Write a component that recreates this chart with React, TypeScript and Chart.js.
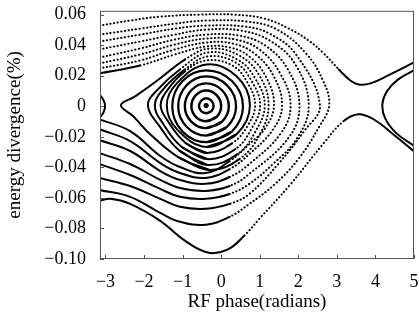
import React, { useEffect, useRef } from 'react';
import { Chart, registerables } from 'chart.js';

Chart.register(...registerables);

type P = [number, number];

const xTicks = [-3, -2, -1, 0, 1, 2, 3, 4, 5];
const yTicks = [-0.1, -0.08, -0.06, -0.04, -0.02, 0, 0.02, 0.04, 0.06];

const centre: P[] = [[-0.39, 0.0005]];

const ring1: P[] = [[-0.386,-0.0046],[-0.253,-0.0032],[-0.196,0],[-0.253,0.0036],[-0.386,0.0052],[-0.518,0.0036],[-0.574,0],[-0.518,-0.0032],[-0.386,-0.0046],[-0.253,-0.0032]];
const ring2: P[] = [[-0.386,-0.0098],[-0.116,-0.0069],[0.0,0],[-0.116,0.0073],[-0.386,0.0104],[-0.656,0.0073],[-0.772,0],[-0.656,-0.0069],[-0.386,-0.0098],[-0.116,-0.0069]];
const ring3: P[] = [[-0.386,-0.0143],[0.023,-0.01],[0.198,0],[0.023,0.0105],[-0.386,0.015],[-0.775,0.0105],[-0.942,0],[-0.775,-0.01],[-0.386,-0.0143],[0.023,-0.01]];
const ring4: P[] = [[-0.386,-0.0192],[0.154,-0.0134],[0.386,0],[0.154,0.0137],[-0.386,0.0196],[-0.896,0.0137],[-1.114,0],[-0.896,-0.0134],[-0.386,-0.0192],[0.154,-0.0134]];
const ring5: P[] = [[-0.386,-0.0235],[0.28,-0.0165],[0.566,0],[0.28,0.0165],[-0.386,0.0235],[-1.003,0.0165],[-1.268,0],[-1.003,-0.0165],[-0.386,-0.0235],[0.28,-0.0165]];
const ring6: P[] = [[-0.376,-0.0267],[0.4,-0.0183],[0.746,0.0007],[0.4,0.0196],[-0.376,0.0274],[-1.15,0.015],[-1.41,0.0007],[-1.15,-0.015],[-0.376,-0.0267],[0.4,-0.0183]];
const ring7: P[] = [[-0.376,-0.0306],[-0.92,-0.0241],[-1.38,-0.0098],[-1.57,0.0007],[-1.38,0.0111],[-0.94,0.0228],[-0.376,0.03],[0.29,0.0267],[0.68,0.0156],[0.88,0.0007],[0.68,-0.013],[0.29,-0.0241],[-0.376,-0.0306],[-0.92,-0.0241]];
const ring8: P[] = [[-0.35,-0.0346],[-1.02,-0.0267],[-1.48,-0.0124],[-1.72,0.0007],[-1.46,0.0124],[-0.94,0.0241],[-0.35,0.0326],[0.37,0.0287],[0.78,0.0169],[1.01,0.0007],[0.78,-0.015],[0.37,-0.028],[-0.35,-0.0346],[-1.02,-0.0267]];
const ring9: P[] = [[-0.35,-0.0385],[-1.07,-0.0293],[-1.58,-0.0137],[-1.9,0.0007],[-1.64,0.0111],[-1.07,0.0241],[-0.35,0.0352],[0.42,0.0306],[0.88,0.0183],[1.13,0.0007],[0.88,-0.0169],[0.42,-0.0313],[-0.35,-0.0385],[-1.07,-0.0293]];
const ring10: P[] = [[-0.3,-0.0417],[-1.07,-0.0339],[-1.84,-0.0183],[-2.28,-0.0065],[-2.6,0.0007],[-2.23,0.0065],[-1.58,0.0183],[-0.94,0.0306],[-0.3,0.0378],[0.47,0.0332],[0.99,0.0202],[1.23,0.0007],[0.99,-0.0189],[0.47,-0.0346],[-0.3,-0.0417],[-1.07,-0.0339]];

const orbitC1: P[] = [[-3.16,0.0215],[-2.1,0.0267],[-1.2,0.0339],[-0.4,0.0391],[0.22,0.0385],[0.73,0.0326],[1.17,0.0189],[1.37,0.0007],[1.14,-0.0143],[0.73,-0.0248],[0.22,-0.0359],[-0.4,-0.0437],[-1.07,-0.0398],[-1.58,-0.0326],[-2.36,-0.0163],[-3.16,-0.0085]];
const orbitC2: P[] = [[-3.16,0.0248],[-2.1,0.03],[-1.2,0.0372],[-0.4,0.0417],[0.29,0.0411],[0.86,0.0346],[1.35,0.0202],[1.58,0.0007],[1.35,-0.015],[0.73,-0.0313],[0.22,-0.0411],[-0.4,-0.0469],[-1.07,-0.0437],[-1.58,-0.0372],[-2.36,-0.0228],[-3.16,-0.015]];
const orbitC3: P[] = [[-3.16,0.028],[-2.1,0.0339],[-1.2,0.0404],[-0.4,0.0443],[0.37,0.0437],[0.99,0.0372],[1.53,0.0215],[1.8,0.0007],[1.55,-0.0176],[0.73,-0.0378],[0.22,-0.0463],[-0.4,-0.0508],[-1.07,-0.0482],[-1.58,-0.0424],[-2.36,-0.0293],[-3.16,-0.0222]];
const orbitC4: P[] = [[-3.16,0.0319],[-2.1,0.0378],[-1.2,0.0437],[-0.4,0.0469],[0.45,0.0463],[1.14,0.0398],[1.73,0.0241],[2.03,0.0007],[1.76,-0.0202],[0.73,-0.0443],[0.22,-0.0522],[-0.4,-0.0554],[-1.07,-0.0535],[-1.58,-0.0482],[-2.36,-0.0378],[-3.16,-0.0306]];
const orbitC5: P[] = [[-3.16,0.0372],[-2.1,0.0424],[-1.2,0.0469],[-0.4,0.0502],[0.52,0.0495],[1.3,0.0424],[1.94,0.0267],[2.27,0.0007],[1.97,-0.0209],[1.37,-0.0372],[0.73,-0.0508],[0.22,-0.0574],[-0.4,-0.0606],[-1.07,-0.0593],[-1.58,-0.0541],[-2.36,-0.045],[-3.16,-0.0378]];
const orbitC6: P[] = [[-3.16,0.0424],[-2.1,0.0469],[-1.2,0.0508],[-0.4,0.0528],[0.6,0.0522],[1.25,0.0476],[1.94,0.0339],[2.56,0.0007],[2.15,-0.0163],[1.5,-0.0372],[0.73,-0.0574],[0.22,-0.0639],[-0.4,-0.0671],[-1.07,-0.0658],[-1.58,-0.0606],[-2.36,-0.0522],[-3.16,-0.0469]];
const orbitC7: P[] = [[-3.16,0.0469],[-2.1,0.0508],[-1.2,0.0541],[-0.4,0.0561],[0.68,0.0554],[1.45,0.0502],[2.2,0.0346],[2.65,0.0163],[2.8,0.0007],[2.55,-0.013],[2.0,-0.0346],[1.37,-0.0515],[0.73,-0.0639],[0.22,-0.0724],[-0.4,-0.0776],[-1.07,-0.0756],[-1.58,-0.0698],[-2.36,-0.0593],[-3.16,-0.0548]];

const passTop: P[] = [[-3.16,0.0528],[-2.36,0.0561],[-1.58,0.0587],[-0.56,0.06],[0.34,0.06],[1.12,0.0574],[1.76,0.0508],[2.27,0.043],[2.66,0.0346],[3.05,0.0241],[3.35,0.0169],[3.56,0.0143],[3.87,0.015],[4.33,0.0202],[5.05,0.0293]];
const passBottom: P[] = [[-3.16,-0.0619],[-2.87,-0.0606],[-2.36,-0.0639],[-1.58,-0.075],[-0.94,-0.088],[-0.35,-0.0958],[0.16,-0.0939],[0.6,-0.0847],[0.99,-0.0737],[1.76,-0.0522],[2.66,-0.0241],[3.17,-0.0098],[3.56,-0.0052],[3.95,-0.0085],[4.46,-0.0183],[5.05,-0.0306]];
const rightArc: P[] = [[5.05,0.0241],[4.59,0.0176],[4.3,0.0098],[4.18,0.0013],[4.25,-0.0078],[4.54,-0.0176],[5.05,-0.0267]];
const leftArc: P[] = [[-3.16,0.0078],[-3.05,0.0039],[-3.01,0],[-3.05,-0.0039],[-3.16,-0.0078]];

const FONT = "'Liberation Serif', 'Times New Roman', serif";
const DOT = [0.3, 3.4];

const mid = (c: any) => ({
  x: (c.p0.parsed.x + c.p1.parsed.x) / 2,
  y: (c.p0.parsed.y + c.p1.parsed.y) / 2,
});

const ringDash = (c: any) => { const m = mid(c); return m.x > 0.35 || m.y > 0.026 ? DOT : []; };
const orbitDash = (c: any) => { const m = mid(c); return m.x > 0.35 || m.y > 0.026 ? DOT : []; };
const topDash = (c: any) => { const m = mid(c); return m.x < 3.0 ? DOT : []; };
const bottomDash = (c: any) => { const m = mid(c); return m.x > 0.6 && m.x < 3.0 ? DOT : []; };

function line(data: P[], width: number, dash?: (c: any) => number[]) {
  const ds: any = {
    data: data.map(([x, y]) => ({ x, y })),
    showLine: true,
    borderColor: '#000',
    backgroundColor: '#000',
    borderWidth: width,
    borderCapStyle: 'round',
    pointRadius: 0,
    tension: 0.4,
    fill: false,
  };
  if (dash) ds.segment = { borderDash: dash };
  return ds;
}

const fmt = (v: number, d: number) => {
  if (Math.abs(v) < 1e-9) return '0';
  return (v < 0 ? '\u2212' : '') + Math.abs(v).toFixed(d);
};

const framePlugin = {
  id: 'frame',
  afterDatasetsDraw(chart: any) {
    const { ctx, chartArea: a, scales } = chart;
    ctx.save();
    ctx.strokeStyle = '#555';
    ctx.lineWidth = 1;
    ctx.setLineDash([]);
    ctx.strokeRect(a.left + 0.5, a.top + 0.5, a.right - a.left - 1, a.bottom - a.top - 1);
    ctx.beginPath();
    for (const v of xTicks) {
      const px = Math.round(scales.x.getPixelForValue(v)) + 0.5;
      ctx.moveTo(px, a.bottom);
      ctx.lineTo(px, a.bottom - 4);
    }
    for (const v of yTicks) {
      const py = Math.round(scales.y.getPixelForValue(v)) + 0.5;
      ctx.moveTo(a.left, py);
      ctx.lineTo(a.left + 4, py);
    }
    ctx.stroke();
    ctx.restore();
  },
};

export default function App() {
  const ref = useRef<HTMLCanvasElement>(null);
  useEffect(() => {
    if (!ref.current) return;
    const datasets = [
      line(ring1, 2.5), line(ring2, 2.5), line(ring3, 2.4), line(ring4, 2.3), line(ring5, 2.2), line(ring6, 2),
      line(ring7, 2, ringDash), line(ring8, 2, ringDash), line(ring9, 2, ringDash), line(ring10, 2, ringDash),
      line(orbitC1, 2, orbitDash), line(orbitC2, 2, orbitDash), line(orbitC3, 2, orbitDash), line(orbitC4, 2, orbitDash),
      line(orbitC5, 2, orbitDash), line(orbitC6, 2, orbitDash), line(orbitC7, 2, orbitDash),
      line(passTop, 2, topDash), line(passBottom, 2, bottomDash),
      line(rightArc, 2), line(leftArc, 2),
      { data: centre.map(([x, y]) => ({ x, y })), pointRadius: 2.2, backgroundColor: '#000', borderColor: '#000', showLine: false },
    ];
    const chart = new Chart(ref.current, {
      type: 'scatter',
      data: { datasets },
      options: {
        animation: false,
        responsive: false,
        devicePixelRatio: 1,
        layout: { padding: { top: 10, right: 3, left: 0, bottom: 0 } },
        elements: { line: { capBezierPoints: false } },
        plugins: { legend: { display: false }, tooltip: { enabled: false } },
        scales: {
          x: {
            type: 'linear',
            min: -Math.PI,
            max: 5,
            afterBuildTicks: (s: any) => { s.ticks = xTicks.map((v) => ({ value: v })); },
            afterFit: (s: any) => { s.height = 62; },
            ticks: {
              callback: (v: any) => fmt(Number(v), 0),
              font: { family: FONT, size: 18 },
              color: '#000',
              padding: 0,
              maxRotation: 0,
              autoSkip: false,
            },
            grid: { display: false, drawTicks: true, tickLength: 12, color: 'rgba(0,0,0,0)' },
            border: { display: false },
            title: { display: true, text: 'RF phase(radians)', font: { family: FONT, size: 19 }, color: '#000', padding: { top: 0, bottom: 8 } },
          },
          y: {
            type: 'linear',
            min: -0.1,
            max: 0.0625,
            afterBuildTicks: (s: any) => { s.ticks = yTicks.map((v) => ({ value: v })); },
            afterFit: (s: any) => { s.width = 100; },
            ticks: {
              callback: (v: any) => fmt(Number(v), 2),
              font: { family: FONT, size: 18 },
              color: '#000',
              padding: 0,
              autoSkip: false,
            },
            grid: { display: false, drawTicks: true, tickLength: 14, color: 'rgba(0,0,0,0)' },
            border: { display: false },
            title: { display: true, text: 'energy divergence(%)', font: { family: FONT, size: 19 }, color: '#000', padding: { top: 4, bottom: 0 } },
          },
        },
      },
      plugins: [framePlugin],
    } as any);
    return () => chart.destroy();
  }, []);
  return (
    <div style={{ position: 'fixed', left: 0, top: 0, width: 419, height: 321, background: '#fff' }}>
      <canvas ref={ref} width={419} height={321} style={{ display: 'block' }} />
    </div>
  );
}
